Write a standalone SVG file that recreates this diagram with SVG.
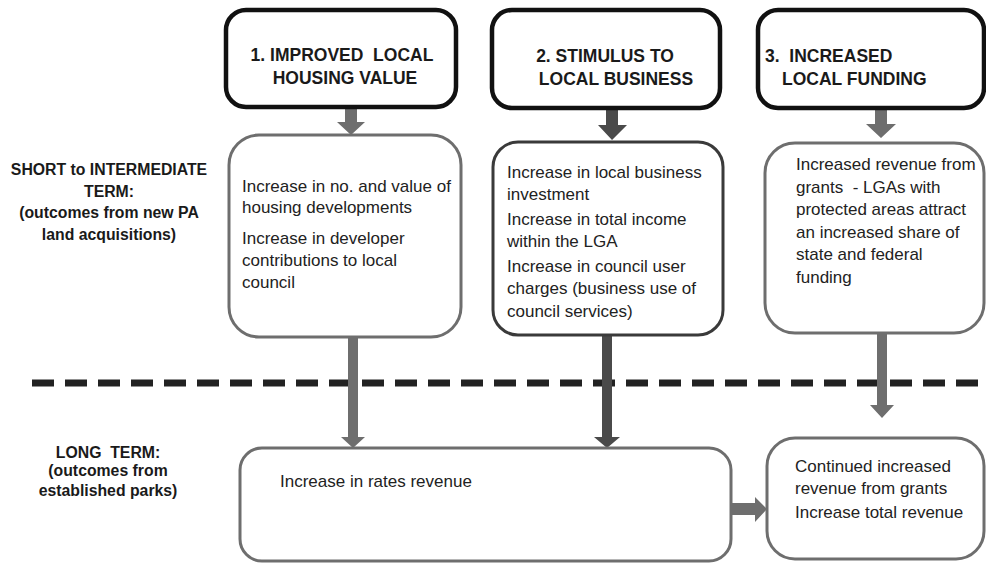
<svg xmlns="http://www.w3.org/2000/svg" width="986" height="563" viewBox="0 0 986 563" xml:space="preserve">
<style>
text{white-space:pre}
.top{fill:#fff;stroke:#111;stroke-width:4.5}
.mid{fill:#fff;stroke:#6e6e6e;stroke-width:3}
.dark{fill:#fff;stroke:#3a3a3a;stroke-width:3}
.t{font-family:"Liberation Sans",Arial,sans-serif;font-size:17px;fill:#222}
.h{font-family:"Liberation Sans",Arial,sans-serif;font-size:17.5px;font-weight:bold;fill:#1a1a1a}
.l{font-family:"Liberation Sans",Arial,sans-serif;font-size:15.8px;font-weight:bold;fill:#1a1a1a;text-anchor:middle}
.arr{fill:#6e6e6e}
.arrd{fill:#4a4a4a}
</style>
<rect width="986" height="563" fill="#fff"/>
<line x1="32" y1="383" x2="986" y2="383" stroke="#222" stroke-width="7" stroke-dasharray="22 11"/>
<g id="label-short">
<text class="l" x="109" y="175">SHORT to INTERMEDIATE</text>
<text class="l" x="109" y="197">TERM:</text>
<text class="l" x="109" y="218">(outcomes from new PA</text>
<text class="l" x="109" y="240">land acquisitions)</text>
</g>
<g id="label-long">
<text class="l" x="108" y="458">LONG  TERM:</text>
<text class="l" x="108" y="476">(outcomes from</text>
<text class="l" x="108" y="496">established parks)</text>
</g>
<g id="connectors">
<polygon class="arr" points="345,107 357,107 357,122 365,122 351,135 337,122 345,122"/>
<polygon class="arrd" points="606,108 618,108 618,125 627,125 612,140 598,125 606,125"/>
<polygon class="arr" points="875,108 887,108 887,124 896,124 881,138 866,124 875,124"/>
<polygon class="arr" points="348,337 358,337 358,437 365,437 353,448 341,437 348,437"/>
<polygon class="arrd" points="602,335 612,335 612,437 620,437 607,448 594,437 602,437"/>
<polygon class="arr" points="877,333 887,333 887,405 894,405 882,418 870,405 877,405"/>
<polygon class="arr" points="732,503 755,503 755,497 767,509 755,522 755,515 732,515"/>
</g>
<g id="top1">
<rect class="top" x="226" y="10" width="230" height="97" rx="20"/>
<text class="h" x="342" y="61" text-anchor="middle">1. IMPROVED  LOCAL</text>
<text class="h" x="345" y="84" text-anchor="middle">HOUSING VALUE</text>
</g>
<g id="top2">
<rect class="top" x="492" y="10" width="228" height="98" rx="20"/>
<text class="h" x="605" y="62" text-anchor="middle">2. STIMULUS TO</text>
<text class="h" x="616" y="85" text-anchor="middle">LOCAL BUSINESS</text>
</g>
<g id="top3">
<rect class="top" x="758" y="10" width="226" height="98" rx="20"/>
<text class="h" x="765" y="62">3.  INCREASED</text>
<text class="h" x="782" y="85">LOCAL FUNDING</text>
</g>
<g id="mid1">
<rect class="mid" x="229" y="135" width="232" height="202" rx="30"/>
<text class="t" x="242" y="192">Increase in no. and value of</text>
<text class="t" x="242" y="213">housing developments</text>
<text class="t" x="242" y="244">Increase in developer</text>
<text class="t" x="242" y="266">contributions to local</text>
<text class="t" x="242" y="288">council</text>
</g>
<g id="mid2">
<rect class="dark" x="493" y="142" width="230" height="193" rx="25"/>
<text class="t" x="507" y="178">Increase in local business</text>
<text class="t" x="507" y="200">investment</text>
<text class="t" x="507" y="225">Increase in total income</text>
<text class="t" x="507" y="247">within the LGA</text>
<text class="t" x="507" y="272">Increase in council user</text>
<text class="t" x="507" y="294">charges (business use of</text>
<text class="t" x="507" y="317">council services)</text>
</g>
<g id="mid3">
<rect class="mid" x="765" y="143" width="219" height="190" rx="30"/>
<text class="t" x="796" y="170">Increased revenue from</text>
<text class="t" x="796" y="193">grants  - LGAs with</text>
<text class="t" x="796" y="215">protected areas attract</text>
<text class="t" x="796" y="238">an increased share of</text>
<text class="t" x="796" y="260">state and federal</text>
<text class="t" x="796" y="283">funding</text>
</g>
<g id="bottom1">
<rect class="mid" x="240" y="448" width="491" height="113" rx="22"/>
<text class="t" x="280" y="487">Increase in rates revenue</text>
</g>
<g id="bottom2">
<rect class="mid" x="767" y="438" width="217" height="121" rx="28"/>
<text class="t" x="795" y="472">Continued increased</text>
<text class="t" x="795" y="494">revenue from grants</text>
<text class="t" x="795" y="518">Increase total revenue</text>
</g>
</svg>
